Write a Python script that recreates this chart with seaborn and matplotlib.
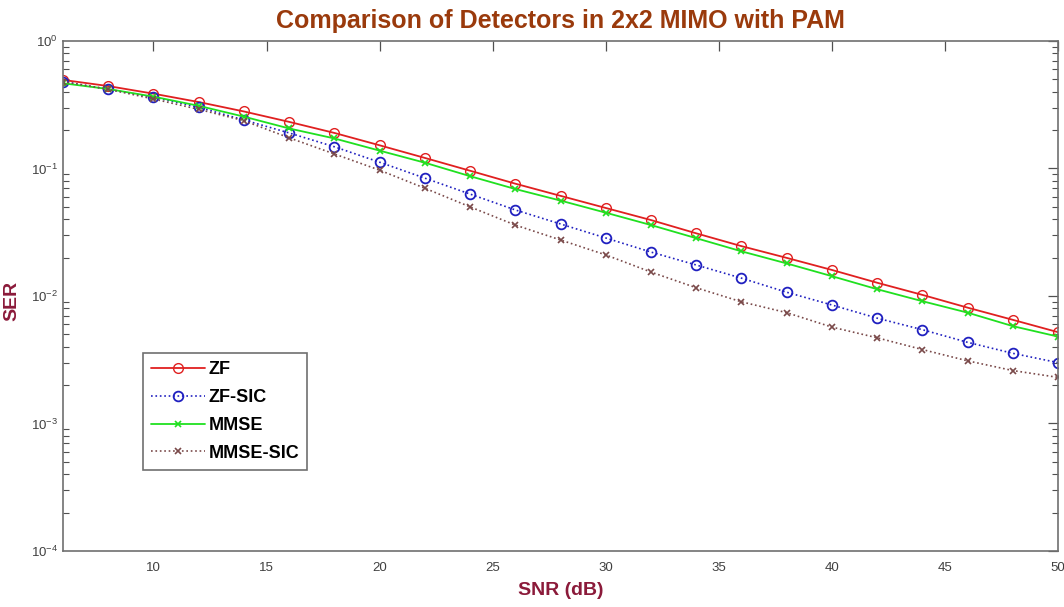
import numpy as np
import pandas as pd
import matplotlib
matplotlib.use('Agg')
import matplotlib.pyplot as plt
import seaborn as sns
from matplotlib.ticker import LogLocator, NullFormatter

# --- Data ---
snr_db = [6, 8, 10, 12, 14, 16, 18, 20, 22, 24, 26, 28, 30, 32, 34, 36, 38, 40, 42, 44, 46, 48, 50]

ser_zf = [0.495, 0.443, 0.386, 0.332, 0.280, 0.232, 0.190, 0.152, 0.121, 0.096, 0.076, 0.061,
          0.049, 0.0394, 0.031, 0.0246, 0.0199, 0.0160, 0.0127, 0.0102, 0.0081, 0.0065, 0.0052]
ser_zf_sic = [0.480, 0.418, 0.362, 0.302, 0.240, 0.190, 0.148, 0.112, 0.084, 0.063, 0.0473, 0.0367,
              0.0285, 0.0221, 0.0175, 0.0138, 0.0107, 0.0085, 0.0067, 0.00544, 0.00433, 0.00355, 0.0030]
ser_mmse = [0.466, 0.420, 0.366, 0.310, 0.255, 0.206, 0.172, 0.138, 0.111, 0.087, 0.069, 0.056,
            0.045, 0.036, 0.0284, 0.0224, 0.0180, 0.0143, 0.0113, 0.0091, 0.0074, 0.0058, 0.0048]
ser_mmse_sic = [0.480, 0.418, 0.351, 0.291, 0.237, 0.174, 0.130, 0.097, 0.070, 0.050, 0.036, 0.0275,
                0.021, 0.0154, 0.0116, 0.0090, 0.0074, 0.0057, 0.0047, 0.0038, 0.0031, 0.0026, 0.0023]

series_names = ['ZF', 'ZF-SIC', 'MMSE', 'MMSE-SIC']
series_values = [ser_zf, ser_zf_sic, ser_mmse, ser_mmse_sic]

# --- Styling ---
styles = {
    'ZF':       dict(color='#e02020', marker='o', linestyle='-',  ms=7, mew=1.0, lw=1.3),
    'ZF-SIC':   dict(color='#2020c0', marker='o', linestyle=':',  ms=7, mew=1.3, lw=1.2),
    'MMSE':     dict(color='#20e020', marker='x', linestyle='-',  ms=5, mew=1.2, lw=1.3),
    'MMSE-SIC': dict(color='#7a4a4a', marker='x', linestyle=':',  ms=5, mew=1.2, lw=1.2),
}

sns.set_theme(style='white')
plt.rcParams['font.family'] = ['Liberation Sans', 'DejaVu Sans']
plt.rcParams['mathtext.fontset'] = 'custom'
plt.rcParams['mathtext.rm'] = 'Liberation Sans'
plt.rcParams['axes.unicode_minus'] = False

fig = plt.figure(figsize=(10.64, 6.07), dpi=100)
ax = fig.add_axes([0.0592, 0.0923, 0.9352, 0.8402])

for name, vals in zip(series_names, series_values):
    st = styles[name]
    sns.lineplot(x=snr_db, y=vals, ax=ax, label=name, color=st['color'],
                 marker=st['marker'], linestyle=st['linestyle'],
                 markerfacecolor='none', markeredgecolor=st['color'],
                 markersize=st['ms'], markeredgewidth=st['mew'], linewidth=st['lw'])

ax.set_yscale('log')
ax.set_xlim(6, 50)
ax.set_ylim(1e-4, 1)
ax.set_xticks([10, 15, 20, 25, 30, 35, 40, 45, 50])
ax.yaxis.set_major_locator(LogLocator(base=10, numticks=10))
ax.yaxis.set_minor_locator(LogLocator(base=10, subs=np.arange(2, 10) * 1.0, numticks=10))
ax.yaxis.set_minor_formatter(NullFormatter())

ax.tick_params(axis='both', which='both', direction='in', top=True, right=True,
               colors='#505050', labelcolor='#404040', labelsize=9.5)
ax.tick_params(axis='both', which='major', length=7, width=0.9)
ax.tick_params(axis='y', which='minor', length=4, width=0.8, left=True, right=True)
ax.tick_params(axis='x', which='major', pad=8)
for sp in ax.spines.values():
    sp.set_color('#707070')
    sp.set_linewidth(1.2)

ax.set_title('Comparison of Detectors in 2x2 MIMO with PAM', fontsize=18, fontweight='bold',
             color='#9a3a0c', pad=9)
ax.set_xlabel('SNR (dB)', fontsize=14, fontweight='bold', color='#8b1a3a', labelpad=6)
ax.set_ylabel('SER', fontsize=14, fontweight='bold', color='#8b1a3a')
ax.yaxis.set_label_coords(-0.043, 0.49)

leg = ax.legend(loc='lower left', bbox_to_anchor=(0.08, 0.159), borderaxespad=0,
                fancybox=False, framealpha=1,
                prop={'weight': 'bold', 'size': 13}, handlelength=3.0, handletextpad=0.2,
                borderpad=0.45, labelspacing=0.6)
leg.get_frame().set_edgecolor('#707070')
leg.get_frame().set_linewidth(1.2)
for txt in leg.get_texts():
    txt.set_color('black')

fig.savefig('out.png', dpi=100)
